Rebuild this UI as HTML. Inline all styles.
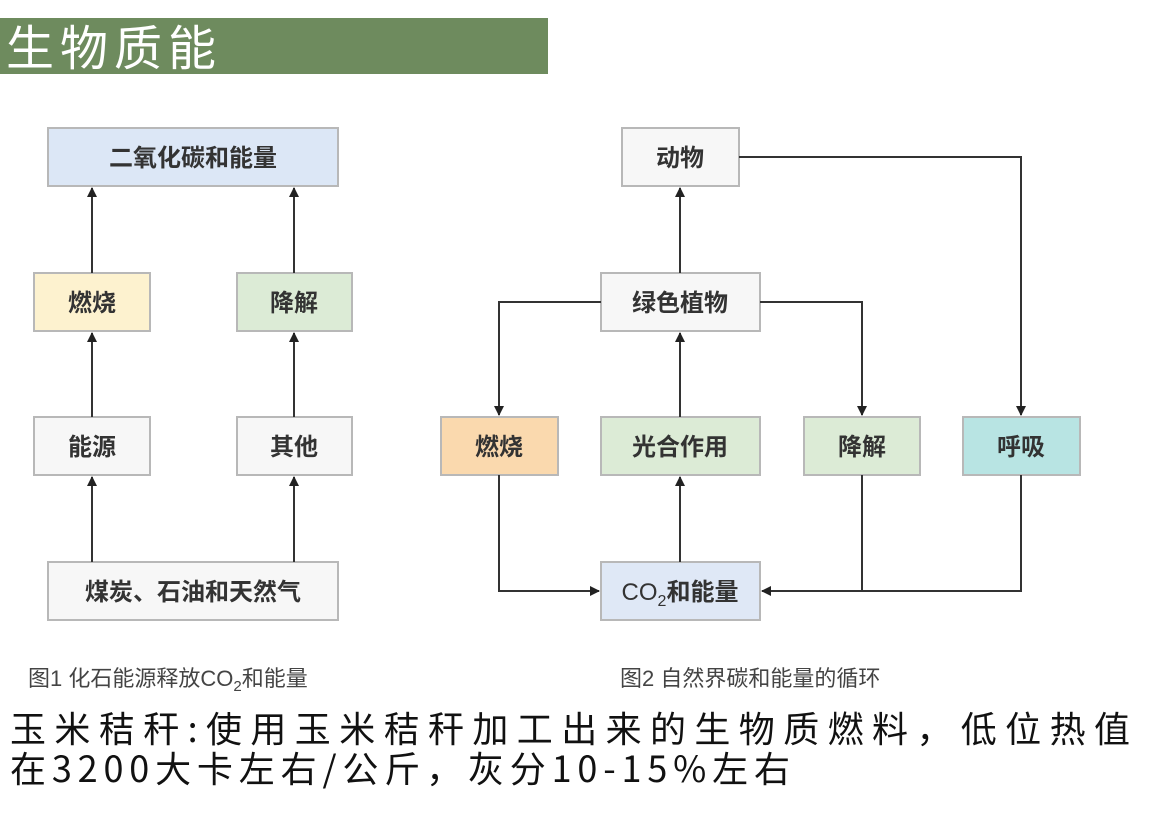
<!DOCTYPE html>
<html><head><meta charset="utf-8"><style>
html,body{margin:0;padding:0;background:#fff;}
svg{display:block;font-family:"Liberation Sans","Noto Sans CJK SC",sans-serif;}
</style></head><body>
<svg width="1149" height="813" viewBox="0 0 1149 813" xmlns="http://www.w3.org/2000/svg">
<defs><marker id="a" markerWidth="10" markerHeight="10" refX="9" refY="5" orient="auto" markerUnits="userSpaceOnUse"><path d="M0,0 L10,5 L0,10 z" fill="#222"/></marker></defs>
<rect x="0" y="18" width="548" height="56" fill="#6e8b5e"/>
<text x="6" y="65" font-size="48" fill="#fff" textLength="210" lengthAdjust="spacing" font-family="Noto Sans CJK SC,sans-serif">生物质能</text>
<g stroke="#b8b8b8" stroke-width="2" font-size="22" text-anchor="middle" fill="#333">
<rect x="48" y="128" width="290" height="58" fill="#dce7f6"/>
<rect x="34" y="273" width="116" height="58" fill="#fdf2cf"/>
<rect x="237" y="273" width="115" height="58" fill="#dcebd6"/>
<rect x="34" y="417" width="116" height="58" fill="#f7f7f7"/>
<rect x="237" y="417" width="115" height="58" fill="#f7f7f7"/>
<rect x="48" y="562" width="290" height="58" fill="#f7f7f7"/>
<rect x="622" y="128" width="117" height="58" fill="#f7f7f7"/>
<rect x="601" y="273" width="159" height="58" fill="#f7f7f7"/>
<rect x="441" y="417" width="117" height="58" fill="#fad9ae"/>
<rect x="601" y="417" width="159" height="58" fill="#dcebd6"/>
<rect x="804" y="417" width="116" height="58" fill="#dcebd6"/>
<rect x="963" y="417" width="117" height="58" fill="#b8e4e3"/>
<rect x="601" y="562" width="159" height="58" fill="#dfe8f6"/>
</g>
<g font-size="24" text-anchor="middle" fill="#333" font-weight="bold">
<text x="193" y="166">二氧化碳和能量</text>
<text x="92" y="311">燃烧</text>
<text x="294" y="311">降解</text>
<text x="92" y="455">能源</text>
<text x="294" y="455">其他</text>
<text x="193" y="600">煤炭、石油和天然气</text>
<text x="680" y="166">动物</text>
<text x="680" y="311">绿色植物</text>
<text x="499" y="455">燃烧</text>
<text x="680" y="455">光合作用</text>
<text x="862" y="455">降解</text>
<text x="1021" y="455">呼吸</text>
<text x="680" y="600" font-weight="normal">CO<tspan font-size="16" dy="6">2</tspan><tspan dy="-6" font-weight="bold">和能量</tspan></text>
</g>
<g stroke="#333" stroke-width="2" fill="none" marker-end="url(#a)">
<line x1="92" y1="273" x2="92" y2="188"/>
<line x1="294" y1="273" x2="294" y2="188"/>
<line x1="92" y1="417" x2="92" y2="333"/>
<line x1="294" y1="417" x2="294" y2="333"/>
<line x1="92" y1="562" x2="92" y2="477"/>
<line x1="294" y1="562" x2="294" y2="477"/>
<line x1="680" y1="273" x2="680" y2="188"/>
<line x1="680" y1="417" x2="680" y2="333"/>
<line x1="680" y1="562" x2="680" y2="477"/>
<polyline points="739,157 1021,157 1021,415"/>
<polyline points="601,302 499,302 499,415"/>
<polyline points="760,302 862,302 862,415"/>
<polyline points="499,475 499,591 599,591"/>
<polyline points="1021,475 1021,591 762,591"/>
</g>
<line x1="862" y1="475" x2="862" y2="591" stroke="#333" stroke-width="2"/>
<g font-size="22" fill="#444">
<text x="28" y="686">图1 化石能源释放CO<tspan font-size="15" dy="5">2</tspan><tspan dy="-5">和能量</tspan></text>
<text x="620" y="686">图2 自然界碳和能量的循环</text>
</g>
<g font-size="36" fill="#111" font-family="Noto Sans CJK SC,sans-serif">
<text x="10" y="742" textLength="1120" lengthAdjust="spacing">玉米秸秆:使用玉米秸秆加工出来的生物质燃料，低位热值</text>
<text x="10" y="782" textLength="780" lengthAdjust="spacing">在3200大卡左右/公斤，灰分10-15%左右</text>
</g>
</svg>
</body></html>
